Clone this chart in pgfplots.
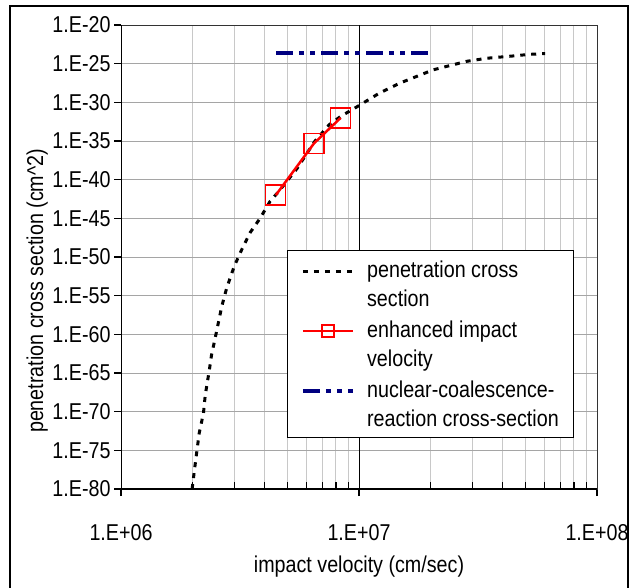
\documentclass[border=0pt]{standalone}
\usepackage{pgfplots}
\pgfplotsset{compat=1.18}
\usepackage{fontspec}
\setmainfont{Liberation Sans}[FakeStretch=0.86]

\definecolor{vgrid}{RGB}{200,200,200}
\definecolor{hgrid}{RGB}{165,165,165}
\definecolor{navyline}{RGB}{0,0,128}

\begin{document}
\begin{tikzpicture}
\useasboundingbox (0,0) rectangle (630bp,588bp);
% chart frame
\draw[line width=1.8bp] (10bp,-20bp) -- (10bp,582bp) -- (628bp,582bp) -- (628bp,-20bp);
\begin{axis}[
  at={(121bp,99bp)}, anchor=south west,
  scale only axis,
  width=476bp, height=464bp,
  xmode=log, ymode=log,
  xmin=1e6, xmax=1e8,
  ymin=1e-80, ymax=1e-20,
  xtick={1e6,1e7,1e8},
  xticklabels={1.E+06,1.E+07,1.E+08},
  minor xtick={2e6,3e6,4e6,5e6,6e6,7e6,8e6,9e6,2e7,3e7,4e7,5e7,6e7,7e7,8e7,9e7},
  ytick={1e-80,1e-75,1e-70,1e-65,1e-60,1e-55,1e-50,1e-45,1e-40,1e-35,1e-30,1e-25,1e-20},
  yticklabels={1.E-80,1.E-75,1.E-70,1.E-65,1.E-60,1.E-55,1.E-50,1.E-45,1.E-40,1.E-35,1.E-30,1.E-25,1.E-20},
  xtick pos=bottom, ytick pos=left,
  tick align=outside,
  major tick length=7bp, minor tick length=7bp,
  tick style={black, line width=1.2bp},
  minor tick style={yshift=7bp},
  xmajorgrids, xminorgrids, ymajorgrids,
  major grid style={hgrid, line width=1bp},
  minor grid style={vgrid, line width=1bp},
  axis line style={black!80, line width=0.8bp},
  ticklabel style={font=\fontsize{23}{27}\selectfont},
  label style={font=\fontsize{23}{27}\selectfont},
  xticklabel style={anchor=center, yshift=-37bp},
  xlabel={impact velocity (cm/sec)},
  ylabel={penetration cross section (cm\textasciicircum 2)},
  xlabel style={at={(axis description cs:0.5,-0.168)}, anchor=center},
  ylabel style={at={(axis description cs:-0.176,0.427)}, anchor=center},
  legend image code/.code={\draw[mark repeat=2, mark phase=2, #1] plot coordinates {(0bp,35.5bp) (25bp,35.5bp) (50bp,35.5bp)};},
  legend style={
    at={(axis description cs:0.349,0.515)}, anchor=north west,
    draw=black, line width=1bp, fill=white,
    font=\fontsize{23}{29.5}\selectfont,
    inner xsep=13bp, inner ysep=8bp,
    row sep=8.5bp,
    cells={align=left, anchor=base west},
    /tikz/every odd column/.append style={column sep=10bp},
  },
]
% line at 1E+07
\addplot[black, line width=1bp, forget plot] coordinates {(1e7,1e-80) (1e7,1e-20)};

\addplot[black, line width=3bp, dash pattern=on 5bp off 6bp] coordinates {
  (1.99e6,1e-80) (2.03e6,1.6e-78) (2.13e6,1.6e-73) (2.22e6,6.3e-71)
  (2.26e6,1.6e-68) (2.34e6,1e-65) (2.40e6,2e-63) (2.51e6,1.3e-60)
  (2.65e6,4e-57) (2.78e6,1e-54) (2.99e6,6.3e-52) (3.21e6,8e-50)
  (3.48e6,1.3e-47) (3.84e6,1e-45) (4.23e6,1.6e-43) (4.6e6,3e-42)
  (5.5e6,3e-39) (6.5e6,8e-36) (7.5e6,1.3e-33) (8.4e6,1.6e-32)
  (9.77e6,2.5e-31) (1.22e7,1.6e-29) (1.49e7,3.2e-28) (2.05e7,1.6e-26)
  (2.83e7,2e-25) (3.44e7,5e-25) (4.45e7,1e-24) (5.2e7,1.6e-24) (6.05e7,2e-24)
};
\addlegendentry{penetration cross\\section}

\addplot[red, line width=2.5bp, mark=square, mark size=10bp,
  mark options={solid, line width=1.4bp},
  legend image post style={mark size=6bp}] coordinates {
  (4.47e6,1e-42) (6.47e6,5e-36) (8.38e6,1e-32)
};
\addlegendentry{enhanced impact\\velocity}

\addplot[navyline, line width=4.5bp, dash pattern=on 17bp off 6bp on 5bp off 6bp on 5bp off 6bp] coordinates {
  (4.5e6,2.5e-24) (2.04e7,2.5e-24)
};
\addlegendentry{nuclear-coalescence-\\reaction cross-section}

% heavier left and bottom axis lines
\draw[black, line width=1.8bp] (rel axis cs:0,1) -- (rel axis cs:0,0) -- (rel axis cs:1,0);
\end{axis}
\end{tikzpicture}
\end{document}
